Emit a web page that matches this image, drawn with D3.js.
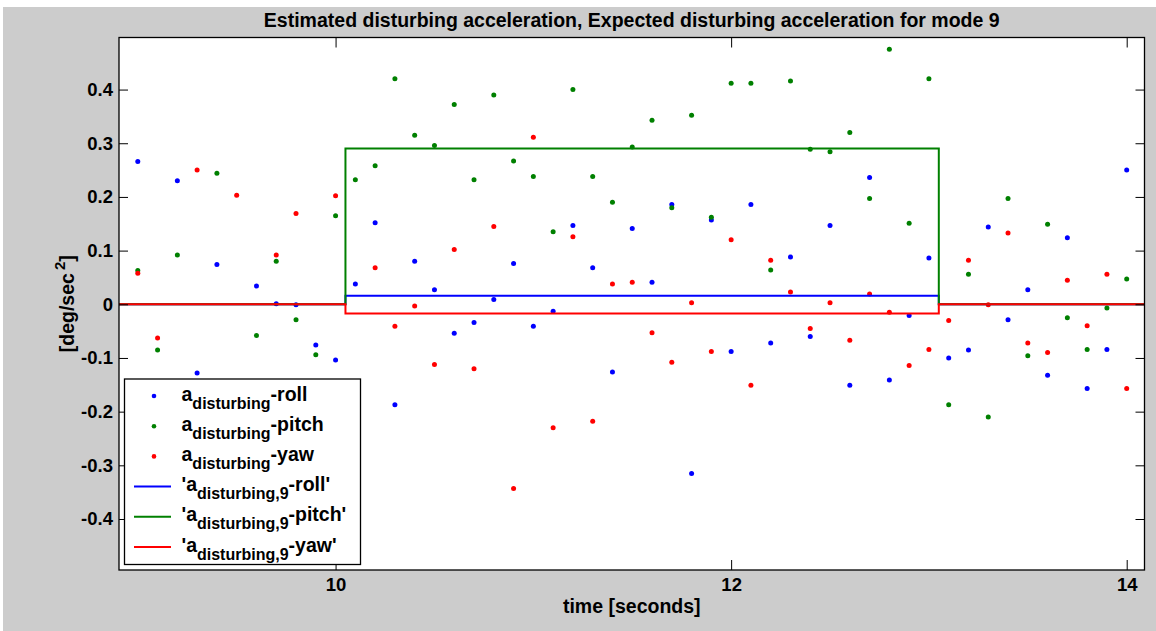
<!DOCTYPE html>
<html>
<head>
<meta charset="utf-8">
<script src="https://cdn.jsdelivr.net/npm/d3@7"></script>
<style>
  html, body { margin: 0; padding: 0; background: #ffffff; }
  svg { display: block; font-family: "Liberation Sans", Arial, Helvetica, sans-serif; font-weight: bold; }
</style>
</head>
<body>
<svg id="chart" width="1156" height="631"></svg>
<script>
// Sample instants [s]
const times = [
  9.0, 9.1, 9.2, 9.3, 9.4, 9.5, 9.6, 9.7, 9.8, 9.9,
  10.0, 10.1, 10.2, 10.3, 10.4, 10.5, 10.6, 10.7, 10.8, 10.9,
  11.0, 11.1, 11.2, 11.3, 11.4, 11.5, 11.6, 11.7, 11.8, 11.9,
  12.0, 12.1, 12.2, 12.3, 12.4, 12.5, 12.6, 12.7, 12.8, 12.9,
  13.0, 13.1, 13.2, 13.3, 13.4, 13.5, 13.6, 13.7, 13.8, 13.9,
  14.0
];

// Estimated disturbing acceleration [deg/sec^2]
const rollValues = [
  0.266, -0.210, 0.230, -0.128, 0.074, -0.260, 0.034, 0.001, -0.001, -0.076,
  -0.104, 0.038, 0.152, -0.187, 0.080, 0.027, -0.054, -0.034, 0.009, 0.076,
  -0.041, -0.013, 0.147, 0.068, -0.126, 0.141, 0.041, 0.186, -0.315, 0.157,
  -0.088, 0.186, -0.072, 0.088, -0.060, 0.147, -0.151, 0.236, -0.141, -0.021,
  0.086, -0.100, -0.085, 0.144, -0.029, 0.027, -0.132, 0.124, -0.157, -0.084,
  0.250
];
const pitchValues = [
  0.063, -0.085, 0.092, -0.310, 0.244, -0.180, -0.058, 0.080, -0.029, -0.094,
  0.165, 0.232, 0.258, 0.420, 0.315, 0.296, 0.372, 0.232, 0.390, 0.267,
  0.238, 0.135, 0.400, 0.238, 0.190, 0.293, 0.343, 0.180, 0.352, 0.162,
  0.412, 0.412, 0.064, 0.416, 0.289, 0.284, 0.320, 0.197, 0.475, 0.151,
  0.420, -0.187, 0.056, -0.210, 0.197, -0.096, 0.149, -0.025, -0.084, -0.007,
  0.047
];
const yawValues = [
  0.058, -0.063, -0.350, 0.250, -0.220, 0.203, -0.400, 0.092, 0.169, -0.280,
  0.202, -0.170, 0.068, -0.041, -0.003, -0.112, 0.102, -0.120, 0.145, -0.343,
  0.311, -0.230, 0.126, -0.218, 0.038, 0.041, -0.053, -0.108, 0.003, -0.088,
  0.120, -0.151, 0.082, 0.023, -0.045, 0.003, -0.067, 0.019, -0.015, -0.114,
  -0.084, -0.030, 0.082, -0.001, 0.133, -0.072, -0.090, 0.045, -0.040, 0.056,
  -0.157
];

// Expected disturbing acceleration for mode 9 (piecewise constant)
const modeTimes = [8.8, 10.05, 13.05, 14.2];
const modeRoll  = [0, 0.016, 0, 0];
const modePitch = [0, 0.290, 0, 0];
const modeYaw   = [0, -0.017, 0, 0];

// Axis settings
const xLimits = [8.905, 14.09];
const yLimits = [-0.495, 0.497];
const xTickValues = [10, 12, 14];
const yTickValues = [-0.4, -0.3, -0.2, -0.1, 0, 0.1, 0.2, 0.3, 0.4];

const titleText = "Estimated disturbing acceleration, Expected disturbing acceleration for mode 9";
const xLabelText = "time [seconds]";

const colors = { roll: "#0000ff", pitch: "#008000", yaw: "#ff0000" };

const svg = d3.select("#chart");
const W = 1156, H = 631;
const box = { left: 119, top: 37.5, right: 1144.5, bottom: 570 };

// Figure background
svg.append("rect").attr("x", 3).attr("y", 7).attr("width", W - 3).attr("height", H - 7).attr("fill", "#cccccc");

const x = d3.scaleLinear().domain(xLimits).range([box.left, box.right]);
const y = d3.scaleLinear().domain(yLimits).range([box.bottom, box.top]);

// Axes area
svg.append("rect")
  .attr("x", box.left).attr("y", box.top)
  .attr("width", box.right - box.left).attr("height", box.bottom - box.top)
  .attr("fill", "#ffffff");

svg.append("clipPath").attr("id", "plotClip")
  .append("rect")
  .attr("x", box.left).attr("y", box.top)
  .attr("width", box.right - box.left).attr("height", box.bottom - box.top);

const plot = svg.append("g").attr("clip-path", "url(#plotClip)");

// Scatter of estimated accelerations
const scatter = [
  { key: "roll", values: rollValues },
  { key: "pitch", values: pitchValues },
  { key: "yaw", values: yawValues }
];
scatter.forEach(s => {
  plot.append("g")
    .selectAll("circle")
    .data(times.map((t, i) => ({ t, v: s.values[i] })))
    .join("circle")
    .attr("cx", d => x(d.t))
    .attr("cy", d => y(d.v))
    .attr("r", 2.5)
    .attr("fill", colors[s.key]);
});

// Expected mode lines
const stepLine = d3.line()
  .x(d => x(d.t))
  .y(d => y(d.v))
  .curve(d3.curveStepAfter);
[
  { key: "roll", values: modeRoll },
  { key: "pitch", values: modePitch },
  { key: "yaw", values: modeYaw }
].forEach(s => {
  plot.append("path")
    .datum(modeTimes.map((t, i) => ({ t, v: s.values[i] })))
    .attr("d", stepLine)
    .attr("fill", "none")
    .attr("stroke", colors[s.key])
    .attr("stroke-width", 2);
});

// Ticks and tick labels (plain hyphen for negatives)
const fmtY = v => (Math.abs(v) < 1e-9 ? "0" : v.toFixed(1));

const xAxisBottom = svg.append("g")
  .attr("transform", `translate(0,${box.bottom})`)
  .call(d3.axisBottom(x).tickValues(xTickValues).tickSizeInner(-10).tickSizeOuter(0).tickPadding(8).tickFormat(d3.format("d")));
const xAxisTop = svg.append("g")
  .attr("transform", `translate(0,${box.top})`)
  .call(d3.axisTop(x).tickValues(xTickValues).tickSizeInner(-10).tickSizeOuter(0).tickFormat(""));
const yAxisLeft = svg.append("g")
  .attr("transform", `translate(${box.left},0)`)
  .call(d3.axisLeft(y).tickValues(yTickValues).tickSizeInner(-9).tickSizeOuter(0).tickPadding(6).tickFormat(fmtY));
const yAxisRight = svg.append("g")
  .attr("transform", `translate(${box.right},0)`)
  .call(d3.axisRight(y).tickValues(yTickValues).tickSizeInner(-9).tickSizeOuter(0).tickFormat(""));

[xAxisBottom, xAxisTop, yAxisLeft, yAxisRight].forEach(g => {
  g.select(".domain").remove();
  g.selectAll(".tick line").attr("stroke", "#000").attr("stroke-width", 1);
  g.selectAll(".tick text")
    .attr("fill", "#000")
    .style("font-family", '"Liberation Sans", Arial, sans-serif')
    .style("font-weight", "bold")
    .style("font-size", "18.5px");
});

// Axes box
svg.append("rect")
  .attr("x", box.left).attr("y", box.top)
  .attr("width", box.right - box.left).attr("height", box.bottom - box.top)
  .attr("fill", "none").attr("stroke", "#000").attr("stroke-width", 1.3);

// Title and axis labels
svg.append("text")
  .attr("x", (box.left + box.right) / 2).attr("y", 26.5)
  .attr("text-anchor", "middle").attr("font-size", 19.5).attr("fill", "#000")
  .text(titleText);

svg.append("text")
  .attr("x", (box.left + box.right) / 2).attr("y", 613)
  .attr("text-anchor", "middle").attr("font-size", 19.5).attr("fill", "#000")
  .text(xLabelText);

const yLab = svg.append("text")
  .attr("transform", `translate(74,${(box.top + box.bottom) / 2}) rotate(-90)`)
  .attr("text-anchor", "middle").attr("font-size", 19.5).attr("fill", "#000");
yLab.append("tspan").text("[deg/sec");
yLab.append("tspan").attr("dx", 3).attr("dy", -9).attr("font-size", 15).text("2");
yLab.append("tspan").attr("dy", 9).text("]");

// Legend
const legend = svg.append("g");
legend.append("rect")
  .attr("x", 124.5).attr("y", 379).attr("width", 236).attr("height", 185.5)
  .attr("fill", "#ffffff").attr("stroke", "#000").attr("stroke-width", 1.3);

const legendItems = [
  { kind: "dot", key: "roll", pre: "a", sub: "disturbing", post: "-roll" },
  { kind: "dot", key: "pitch", pre: "a", sub: "disturbing", post: "-pitch" },
  { kind: "dot", key: "yaw", pre: "a", sub: "disturbing", post: "-yaw" },
  { kind: "line", key: "roll", pre: "'a", sub: "disturbing,9", post: "-roll'" },
  { kind: "line", key: "pitch", pre: "'a", sub: "disturbing,9", post: "-pitch'" },
  { kind: "line", key: "yaw", pre: "'a", sub: "disturbing,9", post: "-yaw'" }
];
const rowY = d3.scaleLinear().domain([0, 5]).range([396, 547]);

legendItems.forEach((it, i) => {
  const cy = rowY(i);
  if (it.kind === "dot") {
    legend.append("circle").attr("cx", 154).attr("cy", cy).attr("r", 2.3).attr("fill", colors[it.key]);
  } else {
    legend.append("line")
      .attr("x1", 134).attr("x2", 171).attr("y1", cy).attr("y2", cy)
      .attr("stroke", colors[it.key]).attr("stroke-width", 2);
  }
  const t = legend.append("text")
    .attr("x", 181.5).attr("y", cy + 4.5)
    .attr("font-size", 19.5).attr("fill", "#000");
  t.append("tspan").text(it.pre);
  t.append("tspan").attr("dy", 8).attr("font-size", 16).text(it.sub);
  t.append("tspan").attr("dy", -8).text(it.post);
});
</script>
</body>
</html>
